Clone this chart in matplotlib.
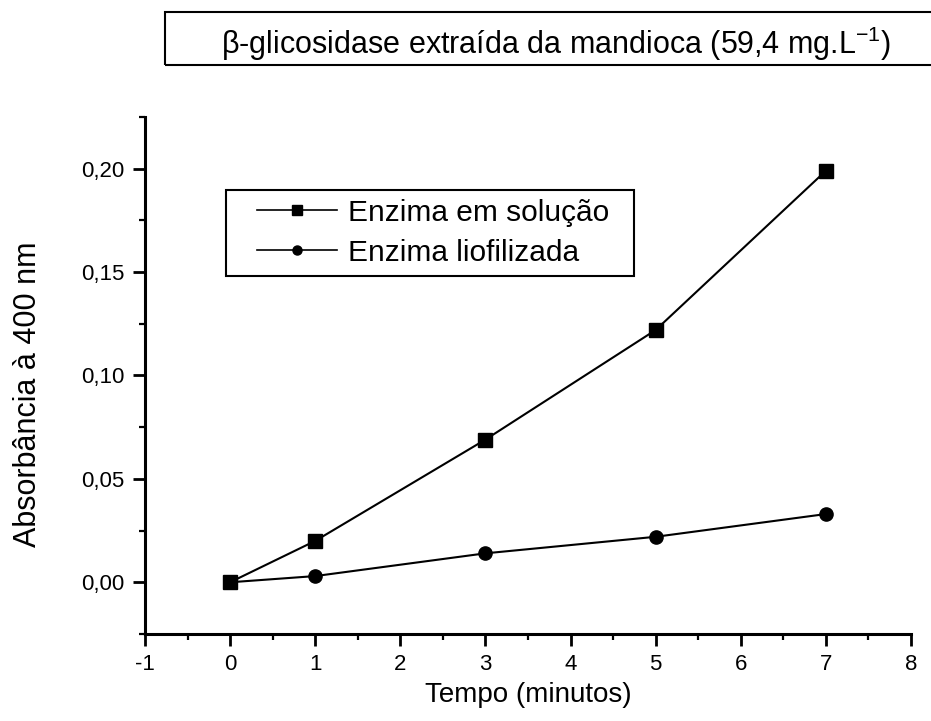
import matplotlib
matplotlib.use("Agg")
import matplotlib.pyplot as plt
from matplotlib.patches import Rectangle
from matplotlib.ticker import MultipleLocator, FuncFormatter

plt.rcParams['font.family'] = ['Liberation Sans', 'DejaVu Sans']

# dados
tempo = [0, 1, 3, 5, 7]
abs_solucao = [0.000, 0.020, 0.069, 0.122, 0.199]
abs_liofilizada = [0.000, 0.003, 0.014, 0.022, 0.033]
nomes = ["Enzima em solução", "Enzima liofilizada"]
titulo = r"β-glicosidase extraída da mandioca (59,4 mg.L$^{\mathregular{-1}}$)"

fig = plt.figure(figsize=(9.31, 7.21), dpi=100)
ax = fig.add_axes([0.1557, 0.1207, 0.8228, 0.717])

ax.plot(tempo, abs_solucao, color='black', lw=1.5, marker='s', ms=9.5, label=nomes[0])
ax.plot(tempo, abs_liofilizada, color='black', lw=1.5, marker='o', ms=9.5, label=nomes[1])

ax.set_xlim(-1, 8)
ax.set_ylim(-0.025, 0.225)
ax.xaxis.set_major_locator(MultipleLocator(1))
ax.xaxis.set_minor_locator(MultipleLocator(0.5))
ax.yaxis.set_major_locator(MultipleLocator(0.05))
ax.yaxis.set_minor_locator(MultipleLocator(0.025))
ax.yaxis.set_major_formatter(FuncFormatter(lambda v, p: f"{v:.2f}".replace('.', ',').replace('-0,00', '0,00')))
ax.xaxis.set_major_formatter(FuncFormatter(lambda v, p: f"{v:.0f}"))

for s in ['top', 'right']:
    ax.spines[s].set_visible(False)
for s in ['left', 'bottom']:
    ax.spines[s].set_linewidth(2.2)

ax.tick_params(which='major', direction='out', length=8.6, width=2, labelsize=16, pad=6)
ax.tick_params(which='minor', direction='out', length=4.3, width=1.6)
ax.set_xlabel("Tempo (minutos)", fontsize=20, labelpad=5)
ax.set_ylabel("Absorbância à 400 nm", fontsize=22)
ax.yaxis.set_label_coords(-0.133, 0.464)

leg = ax.legend(loc='upper left', bbox_to_anchor=(0.134, 0.859), fontsize=21.5,
                frameon=False, handlelength=2.7, handletextpad=0.35,
                borderpad=0.3, labelspacing=0.4, borderaxespad=0)
for h in leg.legend_handles:
    h.set_markersize(6.5)
    h.set_linewidth(1.2)

# caixa do titulo
fig.patches.append(Rectangle((0.1772, 0.9098), 0.9, 0.0735, transform=fig.transFigure,
                             fill=False, edgecolor='black', lw=1.5))
fig.text(0.597, 0.9390, titulo, ha='center', va='center', fontsize=22)

# moldura da legenda, mais larga que o texto (como no original)
fig.canvas.draw()
bb = leg.get_window_extent(fig.canvas.get_renderer())
W, H = fig.bbox.width, fig.bbox.height
fig.patches.append(Rectangle(((bb.x0 - 22) / W, bb.y0 / H), (bb.width + 38) / W, bb.height / H,
                             transform=fig.transFigure, fill=False, edgecolor='black', lw=1.5))

fig.savefig("out.png", dpi=100)
